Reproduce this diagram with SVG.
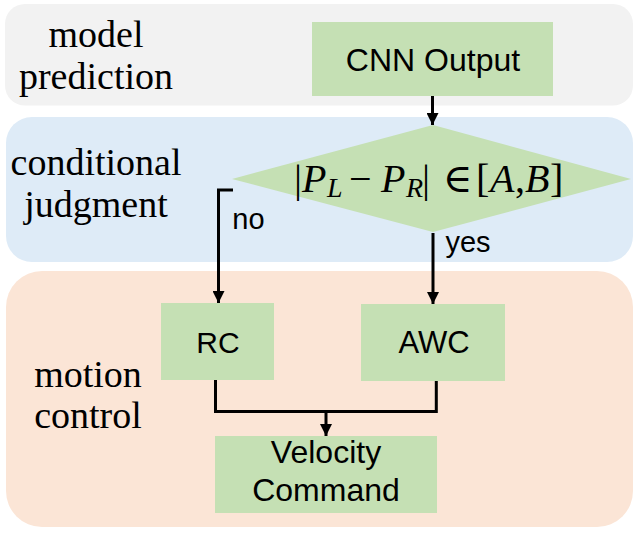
<svg xmlns="http://www.w3.org/2000/svg" width="640" height="535" viewBox="0 0 640 535">
<style>
.lab{font-family:"Liberation Serif","Times New Roman",serif;font-size:38px;fill:#000;text-anchor:middle}
.box{fill:#c5e0b4}
.t{font-family:"Liberation Sans",Arial,sans-serif;fill:#000;text-anchor:middle}
.m{font-family:"Liberation Serif","DejaVu Serif",serif;font-size:40px;fill:#000}
.i{font-style:italic}
.c{fill:none;stroke:#000;stroke-width:3}
</style>
<defs>
<marker id="ah" viewBox="0 0 12 12" refX="12" refY="6" markerWidth="12" markerHeight="12" markerUnits="userSpaceOnUse" orient="auto">
<path d="M0,0 L12,6 L0,12 Z" fill="#000"/>
</marker>
</defs>
<g id="band-model">
<rect x="5" y="4" width="628" height="101.5" rx="20" fill="#f2f2f2"/>
<text class="lab" x="96" y="47">model</text>
<text class="lab" x="96" y="89">prediction</text>
</g>
<g id="band-judgment">
<rect x="6" y="117" width="627" height="145" rx="26" fill="#deebf7"/>
<text class="lab" x="96" y="175">conditional</text>
<text class="lab" x="96" y="217">judgment</text>
</g>
<g id="band-control">
<rect x="6" y="271" width="627" height="256" rx="36" fill="#fbe5d6"/>
<text class="lab" x="88" y="387">motion</text>
<text class="lab" x="88" y="428">control</text>
</g>
<g id="cnn">
<rect class="box" x="312" y="22" width="241" height="74"/>
<text class="t" x="433" y="71" font-size="32">CNN Output</text>
</g>
<g id="cond">
<polygon class="box" points="433,125 631,179 433,232 232,179"/>
<text class="m" y="192"><tspan x="294">|</tspan><tspan class="i" x="302">P</tspan><tspan class="i" x="327" y="197" font-size="28">L</tspan><tspan x="349" y="192">−</tspan><tspan class="i" x="381">P</tspan><tspan class="i" x="406" y="197" font-size="28">R</tspan><tspan x="422" y="192">|</tspan><tspan x="443">∈</tspan><tspan x="476">[</tspan><tspan class="i" x="490">A</tspan><tspan x="515">,</tspan><tspan class="i" x="525">B</tspan><tspan x="550">]</tspan></text>
</g>
<g id="rc">
<rect class="box" x="161" y="303" width="113" height="77"/>
<text class="t" x="218" y="353" font-size="30">RC</text>
</g>
<g id="awc">
<rect class="box" x="361" y="304" width="144" height="77"/>
<text class="t" x="434" y="353" font-size="31">AWC</text>
</g>
<g id="velocity">
<rect class="box" x="215" y="436" width="222" height="77"/>
<text class="t" x="326" y="463" font-size="32">Velocity</text>
<text class="t" x="326" y="501" font-size="32">Command</text>
</g>
<g id="connectors">
<path class="c" d="M432.5,96 V125" marker-end="url(#ah)"/>
<path class="c" d="M233,190 H218.5 V303" marker-end="url(#ah)"/>
<path class="c" d="M433,233 V304" marker-end="url(#ah)"/>
<path class="c" d="M215.5,380 V411.5 H436.3 V381"/>
<path class="c" d="M326,411.5 V436" marker-end="url(#ah)"/>
<text class="t" x="248.5" y="229" font-size="29">no</text>
<text class="t" x="468" y="252" font-size="29">yes</text>
</g>
</svg>
